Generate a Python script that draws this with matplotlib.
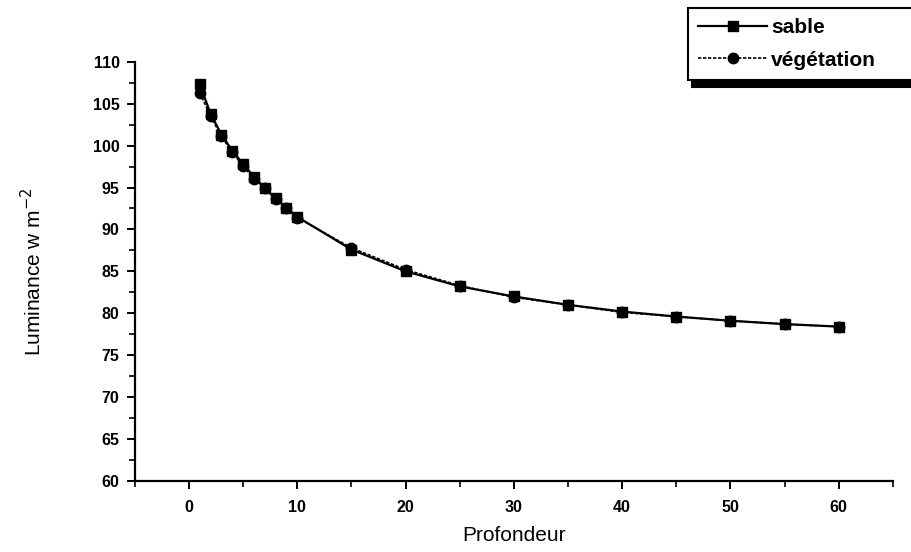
import numpy as np
import matplotlib
matplotlib.use('Agg')
import matplotlib.pyplot as plt
from matplotlib.ticker import MultipleLocator

# depth values
profondeur = [1, 2, 3, 4, 5, 6, 7, 8, 9, 10, 15, 20, 25, 30, 35, 40, 45, 50, 55, 60]

# luminance
sable = [107.3, 103.8, 101.3, 99.4, 97.8, 96.3, 94.9, 93.7, 92.6, 91.5,
         87.6, 85.0, 83.2, 82.0, 81.0, 80.2, 79.6, 79.1, 78.7, 78.4]
vegetation = [106.3, 103.5, 101.1, 99.2, 97.6, 96.0, 95.0, 93.6, 92.5, 91.4,
              87.8, 85.2, 83.3, 81.9, 81.0, 80.1, 79.6, 79.1, 78.7, 78.4]

plt.rcParams['font.family'] = ['Liberation Sans', 'DejaVu Sans']

fig = plt.figure(figsize=(9.11, 5.52), dpi=100)
ax = fig.add_axes([0.148, 0.129, 0.832, 0.759])

ax.plot(profondeur, sable, '-', color='black', lw=1.6, marker='s', ms=7.5,
        mfc='black', mec='black', label='sable')
ax.plot(profondeur, vegetation, '--', color='black', lw=1.2, marker='o', ms=7.5,
        mfc='black', mec='black', dashes=(2, 1), label='végétation')

ax.set_xlim(-5, 65)
ax.set_ylim(60, 110)
ax.xaxis.set_major_locator(MultipleLocator(10))
ax.xaxis.set_minor_locator(MultipleLocator(5))
ax.yaxis.set_major_locator(MultipleLocator(5))
ax.yaxis.set_minor_locator(MultipleLocator(2.5))

for s in ['top', 'right']:
    ax.spines[s].set_visible(False)
for s in ['left', 'bottom']:
    ax.spines[s].set_linewidth(1.6)

ax.tick_params(which='major', direction='out', length=6, width=1.4,
               labelsize=11.5, pad=5)
ax.tick_params(which='minor', direction='out', length=4, width=1.2)
ax.tick_params(axis='x', pad=8)
for lab in ax.get_xticklabels() + ax.get_yticklabels():
    lab.set_fontweight('bold')

ax.set_xlabel('Profondeur', fontsize=15, labelpad=8)
ax.set_ylabel('Luminance w m$^{-2}$', fontsize=15, labelpad=34)

leg = fig.legend(loc='upper left', bbox_to_anchor=(0.755, 0.85, 0.26, 0.136),
                 mode='expand', prop={'size': 15, 'weight': 'bold'},
                 frameon=True, fancybox=False, edgecolor='black',
                 shadow={'color': 'black', 'alpha': 1, 'ox': 3, 'oy': -5},
                 handlelength=3.3, borderpad=0.5, labelspacing=0.65,
                 handletextpad=0.2, borderaxespad=0)
leg.get_frame().set_linewidth(1.5)

fig.savefig('out.png', dpi=100)
